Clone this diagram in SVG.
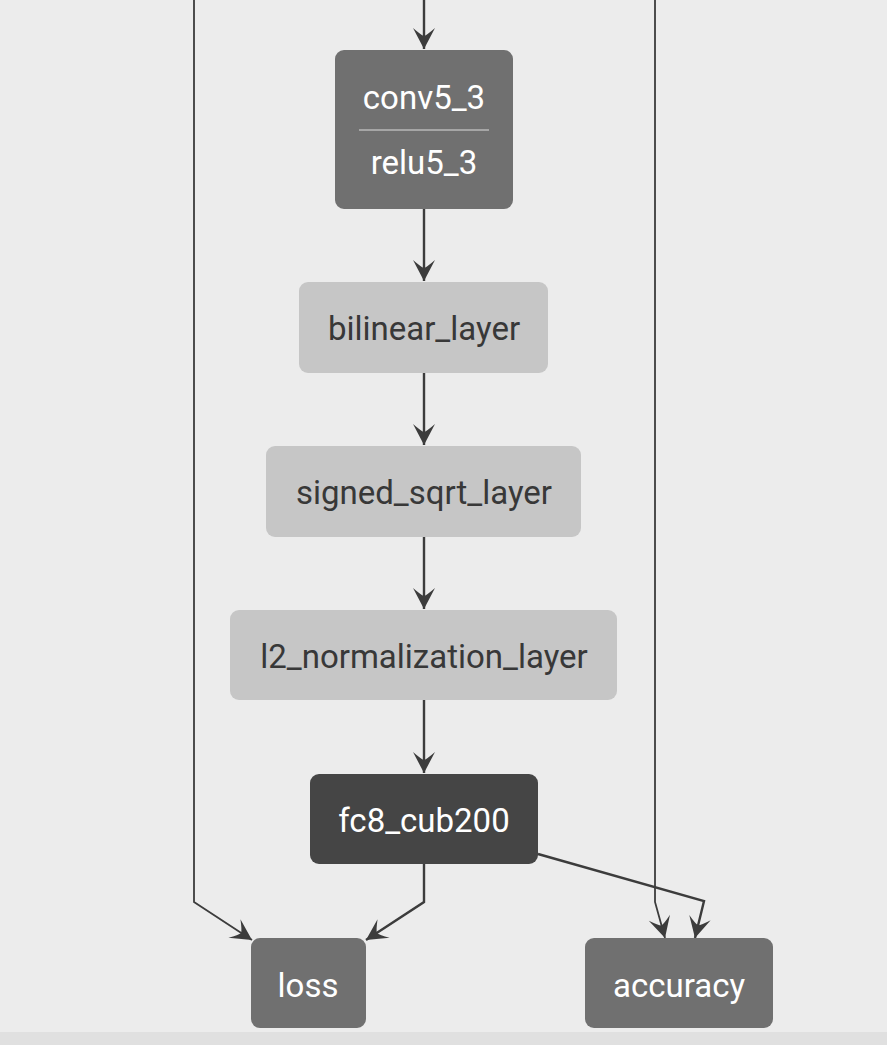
<svg xmlns="http://www.w3.org/2000/svg" width="887" height="1045" viewBox="0 0 887 1045">
<style>
.bg{fill:#ececec}
.mid{fill:#707070}
.light{fill:#c6c6c6}
.dark{fill:#454545}
.t{font-family:Roboto,"Liberation Sans",sans-serif;font-size:33px;text-anchor:middle}
.tw{fill:#ffffff}
.tb{fill:#383838}
.e{fill:none;stroke:#3c3c3c;stroke-width:2.4}
.e2{fill:none;stroke:#3c3c3c;stroke-width:1.8}
</style>
<defs>
<marker id="ah" markerUnits="userSpaceOnUse" markerWidth="26" markerHeight="26" viewBox="-24 -12 26 24" refX="0" refY="0" orient="auto">
<path d="M0,0 L-21,-11 Q-14,-3 -13,0 Q-14,3 -21,11 Z" fill="#3c3c3c"/>
</marker>
</defs>
<rect class="bg" x="0" y="0" width="887" height="1045"/>
<rect x="0" y="1032" width="887" height="13" fill="#e0e0e0"/>
<g id="connectors">
<path class="e" d="M424,0 L424,49" marker-end="url(#ah)"/>
<path class="e" d="M424,209 L424,281" marker-end="url(#ah)"/>
<path class="e" d="M424,373 L424,445" marker-end="url(#ah)"/>
<path class="e" d="M424,537 L424,609" marker-end="url(#ah)"/>
<path class="e" d="M424,700 L424,773" marker-end="url(#ah)"/>
<path class="e2" d="M194,0 L194,902 L252,940" marker-end="url(#ah)"/>
<path class="e" d="M424,864 L424,902 L366,940" marker-end="url(#ah)"/>
<path class="e2" d="M655,0 L655,902 L665,938" marker-end="url(#ah)"/>
<path class="e" d="M538,854 L704,901 L695,938" marker-end="url(#ah)"/>
</g>
<g id="conv5_3">
<rect class="mid" x="335" y="50" width="178" height="159" rx="9"/>
<line x1="359" y1="130" x2="489" y2="130" stroke="#b8b8b8" stroke-width="1.5"/>
<text class="t tw" x="424" y="109">conv5_3</text>
<text class="t tw" x="424" y="174">relu5_3</text>
</g>
<g id="bilinear_layer">
<rect class="light" x="299" y="282" width="249" height="91" rx="9"/>
<text class="t tb" x="424" y="340">bilinear_layer</text>
</g>
<g id="signed_sqrt_layer">
<rect class="light" x="266" y="446" width="315" height="91" rx="9"/>
<text class="t tb" x="424" y="504">signed_sqrt_layer</text>
</g>
<g id="l2_normalization_layer">
<rect class="light" x="230" y="610" width="387" height="90" rx="9"/>
<text class="t tb" x="424" y="668">l2_normalization_layer</text>
</g>
<g id="fc8_cub200">
<rect class="dark" x="310" y="774" width="228" height="90" rx="9"/>
<text class="t tw" x="424" y="832">fc8_cub200</text>
</g>
<g id="loss">
<rect class="mid" x="251" y="938" width="115" height="90" rx="9"/>
<text class="t tw" x="308" y="997">loss</text>
</g>
<g id="accuracy">
<rect class="mid" x="585" y="938" width="188" height="90" rx="9"/>
<text class="t tw" x="679" y="997">accuracy</text>
</g>
</svg>
